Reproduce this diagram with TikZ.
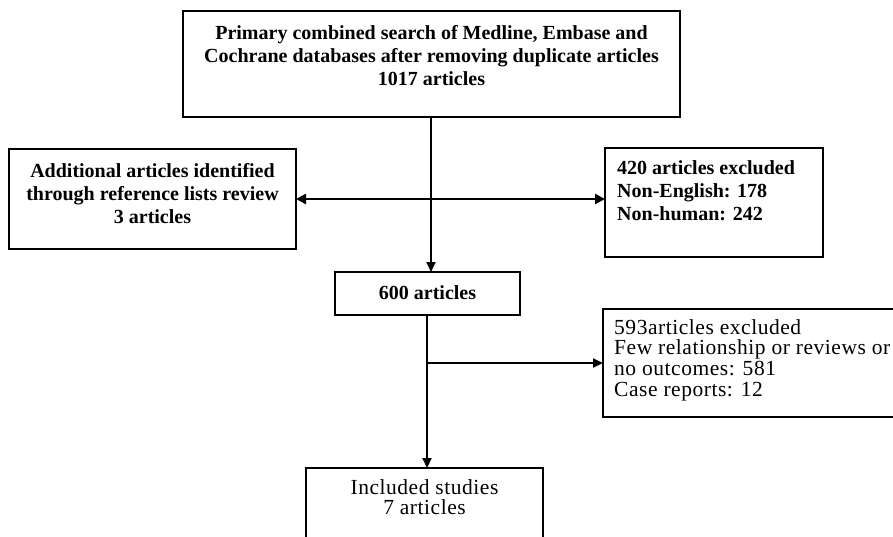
\documentclass[tikz,border=0pt]{standalone}
\usepackage{fontspec}
\setmainfont{Liberation Serif}
\newfontfamily\widefont[LetterSpace=2.5]{Liberation Serif}
\usetikzlibrary{arrows.meta}
\tikzset{
  boxnode/.style={draw, line width=1.6pt, inner sep=0pt, outer sep=0pt},
  bigtxt/.style={font=\fontsize{20}{23}\selectfont\bfseries, inner sep=0pt, align=center},
  lighttxt/.style={font=\widefont\fontsize{21.5}{20.7}\selectfont, inner sep=0pt},
  arr/.style={line width=2pt, -{Triangle[length=10pt,width=9pt]}},
  dbl/.style={line width=2.5pt, {Triangle[length=10pt,width=10pt]}-{Triangle[length=10pt,width=10pt]}}
}
\begin{document}
\begin{tikzpicture}[x=1pt,y=-1pt]
\useasboundingbox (0,0) rectangle (893,536);
\clip (0,0) rectangle (893,536);
\fill[white] (0,0) rectangle (893,536);
% boxes
\node[boxnode, minimum width=497pt, minimum height=106pt] (top) at (431.5,64) {};
\node[boxnode, minimum width=287pt, minimum height=100pt] (left) at (152.5,199) {};
\node[boxnode, minimum width=218pt, minimum height=109pt] (right) at (714,202.5) {};
\node[boxnode, minimum width=185pt, minimum height=43pt] (b600) at (427.5,293.5) {};
\node[boxnode, minimum width=347pt, minimum height=108pt] (ex2) at (776.5,363) {};
\node[boxnode, minimum width=237pt, minimum height=92pt] (inc) at (424.5,514) {};
% texts
\node[bigtxt] (toptext) at (431.5,56) {Primary combined search of Medline, Embase and\\Cochrane databases after removing duplicate articles\\1017 articles};
\node[bigtxt] (lefttext) at (152.5,194) {Additional articles identified\\through reference lists review\\3 articles};
\node[bigtxt, align=left, anchor=west] (righttext) at (617,191) {420 articles excluded\\Non-English: 178\\Non-human: 242};
\node[bigtxt] (t600) at (427.5,293) {600 articles};
\node[lighttxt, align=left, anchor=west] (ex2text) at (614,360) {593articles excluded\\Few relationship or reviews or\\no outcomes: 581\\Case reports: 12};
\node[lighttxt, align=center] (inctext) at (424.5,497) {Included studies\\7 articles};
% connectors
\coordinate (v1) at (431,0);
\coordinate (v2) at (427,0);
\draw[arr] (top.south -| v1) -- (b600.north -| v1);
\draw[dbl] (left.east) -- (left.east -| right.west);
\draw[arr] (b600.south -| v2) -- (inc.north -| v2);
\draw[arr] (ex2.west -| v2) -- (ex2.west);
\end{tikzpicture}
\end{document}
